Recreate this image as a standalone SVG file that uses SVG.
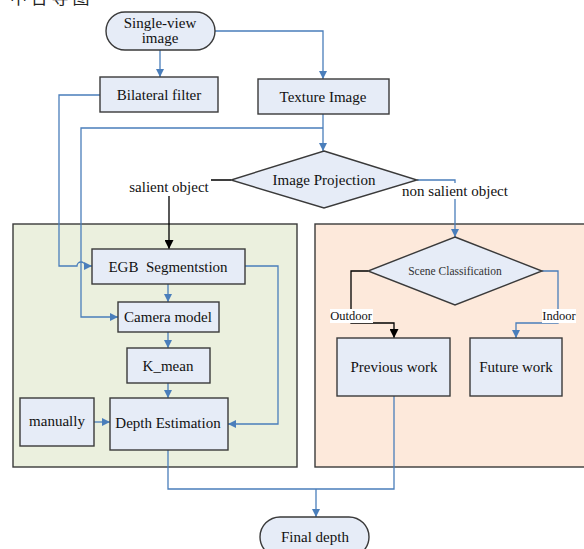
<svg xmlns="http://www.w3.org/2000/svg" width="584" height="549" viewBox="0 0 584 549">
<defs>
<marker id="ab" viewBox="0 0 10 10" refX="10" refY="5" markerWidth="8" markerHeight="8" markerUnits="userSpaceOnUse" orient="auto"><path d="M0,0 L10,5 L0,10 z" fill="#4a7ebb"/></marker>
<marker id="ak" viewBox="0 0 10 10" refX="10" refY="5" markerWidth="9" markerHeight="9" markerUnits="userSpaceOnUse" orient="auto"><path d="M0,0 L10,5 L0,10 z" fill="#000"/></marker>
</defs>
<style>
.box{fill:#e6ecf7;stroke:#3a3a3a;stroke-width:1.4}
.t{font-family:"Liberation Serif","Times New Roman",serif;font-size:15px;fill:#111;text-anchor:middle;dominant-baseline:central}
.s{font-size:11.5px;fill:#333}
.l{font-size:12.5px}
.b{fill:none;stroke:#4a7ebb;stroke-width:1.3}
.k{fill:none;stroke:#000;stroke-width:1.3}
.lbl{fill:#fff}
</style>
<text x="10" y="4" style="font-family:'Noto Sans CJK SC',sans-serif;font-size:17px;fill:#222">中 台 导 图</text>

<rect x="13" y="224" width="284" height="243" fill="#ebf0de" stroke="#3a3a3a" stroke-width="1.4"/>
<rect x="315" y="224" width="280" height="243" fill="#fde9db" stroke="#3a3a3a" stroke-width="1.4"/>

<g id="connectors">
<path class="b" d="M160,50 V77" marker-end="url(#ab)"/>
<path class="b" d="M215,31 H323 V79" marker-end="url(#ab)"/>
<path class="b" d="M323,114 V151" marker-end="url(#ab)"/>
<path class="b" d="M323,128 H81 V317 H118" marker-end="url(#ab)"/>
<path class="b" d="M100,95 H59 V266 H77 A4,4 0 0 1 85,266 H92" marker-end="url(#ab)"/>
<path class="k" d="M231,180 H169 V249" marker-end="url(#ak)"/>
<path class="b" d="M417,180 H455 V237" marker-end="url(#ab)"/>
<path class="b" d="M168,284 V302" marker-end="url(#ab)"/>
<path class="b" d="M168,332 V348" marker-end="url(#ab)"/>
<path class="b" d="M168,383 V398" marker-end="url(#ab)"/>
<path class="b" d="M94,422 H110" marker-end="url(#ab)"/>
<path class="b" d="M245,266 H278 V424 H228" marker-end="url(#ab)"/>
<path class="b" d="M168,450 V489 H394 V396"/>
<path class="b" d="M316,489 V517" marker-end="url(#ab)"/>
<path class="k" d="M368,271 H351 V323 H394 V338" marker-end="url(#ak)"/>
<path class="b" d="M542,271 H558 V323 H516 V338" marker-end="url(#ab)"/>
<rect class="lbl" x="127" y="179" width="84" height="17"/>
<text class="t" x="169" y="187">salient object</text>
<rect class="lbl" x="399" y="183" width="113" height="16"/>
<text class="t" x="455" y="191">non salient object</text>
<rect class="lbl" x="330" y="309" width="43" height="14"/>
<text class="t l" x="351" y="316">Outdoor</text>
<rect class="lbl" x="542" y="309" width="34" height="14"/>
<text class="t l" x="559" y="316">Indoor</text>
</g>

<g id="single-view"><rect class="box" x="106" y="12" width="109" height="38" rx="19"/><text class="t" x="160" y="23">Single-view</text><text class="t" x="160" y="38">image</text></g>
<g id="bilateral"><rect class="box" x="100" y="77" width="118" height="35"/><text class="t" x="159" y="95">Bilateral filter</text></g>
<g id="texture"><rect class="box" x="258" y="79" width="131" height="35"/><text class="t" x="323" y="97">Texture Image</text></g>
<g id="projection"><path class="box" d="M324,151 L417,180 L324,208 L231,180 z"/><text class="t" x="324" y="180">Image Projection</text></g>
<g id="egb"><rect class="box" x="92" y="249" width="153" height="35"/><text class="t" x="168" y="267" xml:space="preserve">EGB  Segmentstion</text></g>
<g id="camera"><rect class="box" x="118" y="302" width="101" height="30"/><text class="t" x="168" y="317">Camera model</text></g>
<g id="kmean"><rect class="box" x="127" y="348" width="83" height="35"/><text class="t" x="168" y="366">K_mean</text></g>
<g id="manually"><rect class="box" x="20" y="398" width="74" height="48"/><text class="t" x="57" y="421">manually</text></g>
<g id="depth"><rect class="box" x="110" y="398" width="118" height="52"/><text class="t" x="168" y="423">Depth Estimation</text></g>
<g id="scene"><path class="box" d="M455,237 L542,271 L455,305 L368,271 z"/><text class="t s" x="455" y="271">Scene Classification</text></g>
<g id="previous"><rect class="box" x="337" y="338" width="113" height="58"/><text class="t" x="394" y="367">Previous work</text></g>
<g id="future"><rect class="box" x="470" y="338" width="92" height="58"/><text class="t" x="516" y="367">Future work</text></g>
<g id="final"><rect class="box" x="260" y="517" width="109" height="40" rx="20"/><text class="t" x="315" y="537">Final depth</text></g>
</svg>
